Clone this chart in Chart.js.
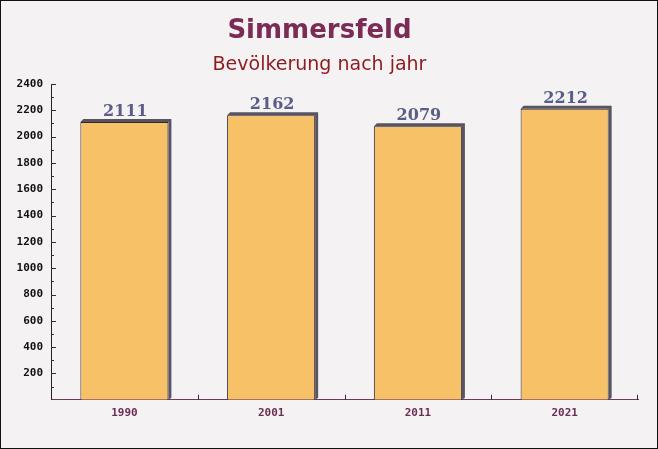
<!DOCTYPE html>
<html>
<head>
<meta charset="utf-8">
<script src="https://cdn.jsdelivr.net/npm/chart.js@4/dist/chart.umd.min.js"></script>
<style>
  html, body { margin: 0; padding: 0; background: #f4f2f2; }
  #wrap { width: 656px; height: 447px; border: 1px solid #111; background: #f4f2f2; }
</style>
</head>
<body>
<div id="wrap"><canvas id="chart" width="656" height="447"></canvas></div>
<script>
const years = ['1990', '2001', '2011', '2021'];
const population = [2111, 2162, 2079, 2212];
const yTicks = [200, 400, 600, 800, 1000, 1200, 1400, 1600, 1800, 2000, 2200, 2400];

// shadow strip on top and right of each bar
const barShadow = {
  id: 'barShadow',
  beforeDatasetsDraw(chart) {
    const ctx = chart.ctx;
    chart.getDatasetMeta(0).data.forEach(bar => {
      const l = bar.x - bar.width / 2, r = bar.x + bar.width / 2;
      ctx.save();
      ctx.fillStyle = '#5a5360';
      ctx.beginPath();
      ctx.moveTo(l, bar.y);
      ctx.lineTo(l + 3, bar.y - 3);
      ctx.lineTo(r + 3, bar.y - 3);
      ctx.lineTo(r + 3, bar.base - 2);
      ctx.lineTo(r, bar.base);
      ctx.lineTo(r, bar.y);
      ctx.closePath();
      ctx.fill();
      ctx.restore();
    });
  }
};

// value labels above bars and small axis ticks
const extras = {
  id: 'extras',
  afterDatasetsDraw(chart) {
    const ctx = chart.ctx;
    const y = chart.scales.y, x = chart.scales.x;
    ctx.save();
    ctx.font = 'bold 16px "DejaVu Serif"';
    ctx.fillStyle = '#5a5d88';
    ctx.textAlign = 'center';
    ctx.textBaseline = 'alphabetic';
    chart.getDatasetMeta(0).data.forEach((bar, i) => {
      ctx.fillText(population[i], bar.x + 1, bar.y - 6);
    });

    ctx.strokeStyle = '#3a2a3a';
    ctx.lineWidth = 1;
    for (let v = 100; v <= 2400; v += 100) {
      const py = Math.round(y.getPixelForValue(v)) + 0.5;
      const len = v % 200 === 0 ? 5 : 3;
      ctx.beginPath();
      ctx.moveTo(y.right, py);
      ctx.lineTo(y.right + len, py);
      ctx.stroke();
    }
    const step = (x.right - x.left) / years.length;
    for (let i = 1; i <= years.length; i++) {
      let px = Math.round(x.left + step * i) + 0.5;
      if (i === years.length) px = Math.round(x.right) - 0.5;
      ctx.beginPath();
      ctx.moveTo(px, x.top);
      ctx.lineTo(px, x.top - 5);
      ctx.stroke();
    }
    ctx.restore();
  }
};

new Chart(document.getElementById('chart'), {
  type: 'bar',
  data: {
    labels: years,
    datasets: [{
      data: population,
      backgroundColor: '#f7c167',
      borderColor: '#2e2a2e',
      borderWidth: 1,
      borderSkipped: 'bottom',
      barPercentage: 0.6,
      categoryPercentage: 1
    }]
  },
  options: {
    responsive: false,
    animation: false,
    layout: { padding: { left: 0, right: 19, bottom: 21, top: 0 } },
    plugins: {
      legend: { display: false },
      tooltip: { enabled: false },
      title: {
        display: true,
        text: 'Simmersfeld',
        color: '#7a2b56',
        font: { family: 'DejaVu Sans', size: 26, weight: 'bold' },
        padding: { top: 15, bottom: 4 }
      },
      subtitle: {
        display: true,
        text: 'Bevölkerung nach jahr',
        color: '#8e1b1f',
        font: { family: 'DejaVu Sans', size: 19, weight: 'normal' },
        padding: { top: 2, bottom: 8 }
      }
    },
    scales: {
      x: {
        grid: { display: false, drawTicks: false },
        border: { display: true, color: '#6b3a5a', width: 1 },
        ticks: {
          color: '#6b2d52',
          padding: 7,
          font: { family: 'DejaVu Sans Mono', size: 11, weight: 'bold' }
        }
      },
      y: {
        min: 0,
        max: 2400,
        afterFit(s) { s.width = 50; },
        afterBuildTicks(s) { s.ticks = yTicks.map(v => ({ value: v })); },
        grid: { display: false, drawTicks: false },
        border: { display: true, color: '#222', width: 1 },
        ticks: {
          color: '#111',
          padding: 8,
          callback: v => String(v),
          font: { family: 'DejaVu Sans Mono', size: 11, weight: 'bold' }
        }
      }
    }
  },
  plugins: [barShadow, extras]
});
</script>
</body>
</html>
